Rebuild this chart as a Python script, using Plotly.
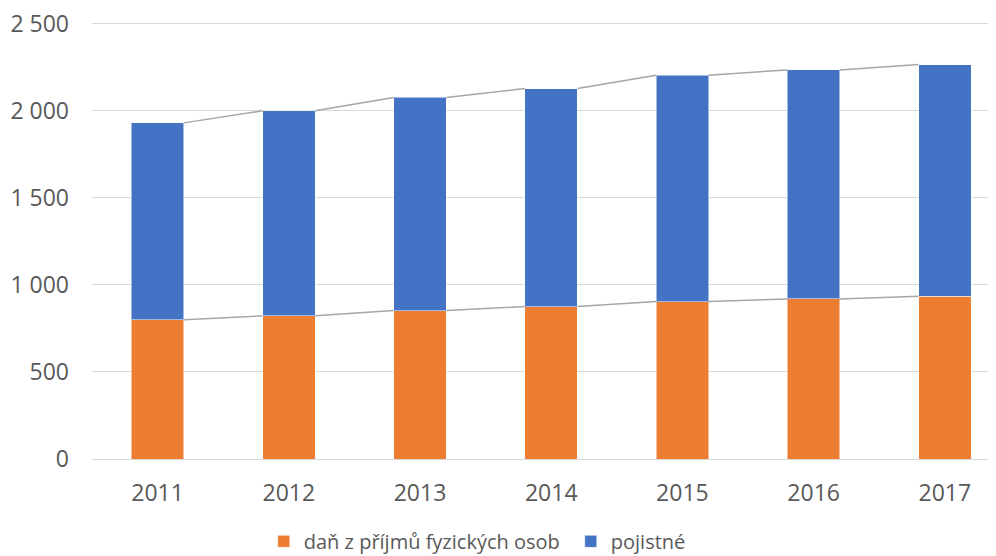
import plotly.graph_objects as go

years = ["2011", "2012", "2013", "2014", "2015", "2016", "2017"]
dan_fo = [799, 822, 852, 875, 904, 919, 935]
pojistne = [1131, 1177, 1224, 1252, 1300, 1315, 1330]

ORANGE = "#ED7D31"
BLUE = "#4472C4"
TXT = "#595959"
BAR_W = 0.4

pos = list(range(len(years)))
totals = [a + b for a, b in zip(dan_fo, pojistne)]


def series_line(tops):
    # Excel-style series lines: right top corner of one bar to left top corner of the next
    xs, ys = [], []
    for i in range(len(tops) - 1):
        xs += [pos[i] + BAR_W / 2, pos[i + 1] - BAR_W / 2, None]
        ys += [tops[i], tops[i + 1], None]
    return go.Scatter(x=xs, y=ys, mode="lines", line=dict(color="#a6a6a6", width=1.5),
                      showlegend=False, hoverinfo="skip")


fig = go.Figure()
fig.add_trace(go.Bar(x=pos, y=dan_fo, name="daň z příjmů fyzických osob", width=BAR_W,
                     marker=dict(color=ORANGE, line=dict(color="rgba(255,255,255,0.5)", width=1))))
fig.add_trace(go.Bar(x=pos, y=pojistne, name="pojistné", width=BAR_W,
                     marker=dict(color=BLUE, line=dict(color="rgba(255,255,255,0.5)", width=1))))
fig.add_trace(series_line(dan_fo))
fig.add_trace(series_line(totals))

# page body has an 8px margin, so the figure is sized to fit the window
fig.update_layout(
    barmode="stack",
    width=988, height=548,
    margin=dict(l=84, r=0, t=13, b=97, autoexpand=False),
    paper_bgcolor="white", plot_bgcolor="white",
    separators=", ",
    font=dict(family="Open Sans, Liberation Sans, sans-serif", size=23, color=TXT),
    xaxis=dict(range=[-0.5, 6.39], tickvals=pos, ticktext=years, showgrid=False,
               zeroline=False, showline=False, ticks="", ticklabelstandoff=18,
               automargin=False, fixedrange=True),
    yaxis=dict(range=[0, 2515], tickvals=[0, 500, 1000, 1500, 2000, 2500], tickformat=",d",
               showgrid=True, gridcolor="#d9d9d9", gridwidth=1.3, zeroline=True,
               zerolinecolor="#d9d9d9", zerolinewidth=1.3, showline=False, ticks="",
               ticklabelstandoff=22, ticklabeloverflow="allow", automargin=False),
    legend=dict(orientation="h", x=0.19, xanchor="left", y=-0.188, yanchor="middle",
                font=dict(size=20, color=TXT), traceorder="normal",
                entrywidth=262, entrywidthmode="pixels"),
    showlegend=True,
)

fig.write_html("out.html")
